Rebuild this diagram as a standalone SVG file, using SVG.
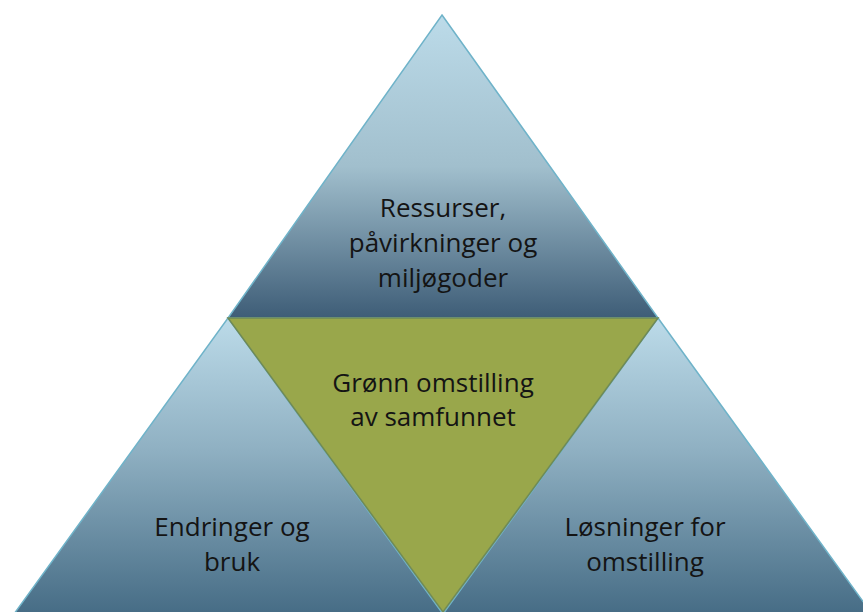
<svg xmlns="http://www.w3.org/2000/svg" width="863" height="612" viewBox="0 0 863 612">
<defs>
<linearGradient id="gTop" x1="0" y1="15" x2="0" y2="318" gradientUnits="userSpaceOnUse">
<stop offset="0" stop-color="#bcdbe9"/>
<stop offset="0.5" stop-color="#a1bfcd"/>
<stop offset="1" stop-color="#3e5d77"/>
</linearGradient>
<linearGradient id="gLow" x1="0" y1="318" x2="0" y2="612" gradientUnits="userSpaceOnUse">
<stop offset="0" stop-color="#bcdbe9"/>
<stop offset="0.45" stop-color="#8fb0c2"/>
<stop offset="1" stop-color="#476d86"/>
</linearGradient>
<style>
.tri{stroke:#6fb3c9;stroke-width:1.5;stroke-linejoin:miter}
.mid{fill:#99a74b;stroke:#6f8a57;stroke-width:1.5}
.lbl{font-family:"Open Sans","Noto Sans",sans-serif;font-size:26px;fill:#141414;text-anchor:middle}
</style>
</defs>
<rect width="863" height="612" fill="#ffffff"/>
<g id="top">
<polygon class="tri" points="442,15 658,318 228,318" fill="url(#gTop)"/>
<text class="lbl" x="443" y="217">Ressurser,</text>
<text class="lbl" x="443" y="252">påvirkninger og</text>
<text class="lbl" x="443" y="287">miljøgoder</text>
</g>
<g id="left">
<polygon class="tri" points="228,318 443,614 14,614" fill="url(#gLow)"/>
<text class="lbl" x="232" y="536">Endringer og</text>
<text class="lbl" x="232" y="571">bruk</text>
</g>
<g id="right">
<polygon class="tri" points="658,318 872,614 443,614" fill="url(#gLow)"/>
<text class="lbl" x="645" y="536">Løsninger for</text>
<text class="lbl" x="645" y="571">omstilling</text>
</g>
<g id="center">
<polygon class="mid" points="228,318 658,318 443,612"/>
<text class="lbl" x="433" y="392">Grønn omstilling</text>
<text class="lbl" x="433" y="426">av samfunnet</text>
</g>
<g id="connectors"/>
</svg>
